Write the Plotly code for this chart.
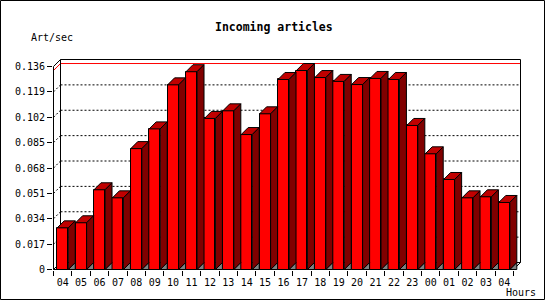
import plotly.graph_objects as go

# ---- data ----
hours = ["04", "05", "06", "07", "08", "09", "10", "11", "12", "13", "14", "15", "16",
         "17", "18", "19", "20", "21", "22", "23", "00", "01", "02", "03", "04"]
values = [0.0279, 0.0313, 0.0534, 0.0480, 0.0810, 0.0942, 0.1237, 0.1325, 0.1012,
          0.1063, 0.0904, 0.1043, 0.1273, 0.1333, 0.1286, 0.1260, 0.1239, 0.1280,
          0.1273, 0.0965, 0.0775, 0.0603, 0.0480, 0.0487, 0.0449]
tick_vals = [0, 0.017, 0.034, 0.051, 0.068, 0.085, 0.102, 0.119, 0.136]
tick_text = ["0", "0.017", "0.034", "0.051", "0.068", "0.085", "0.102", "0.119", "0.136"]
title_text = "Incoming articles"
y_label = "Art/sec"
x_label = "Hours"

# ---- geometry (pixels) ----
FIG_W, FIG_H = 550, 300
L, R, T, B = 53, 521, 59, 270
W, H = R - L, B - T
CAT_PX = 18.4            # pixels per category
DEPTH = 7                # 3D depth in pixels
YMAX = tick_vals[-1]
PPU = 203 / YMAX         # pixels per y unit
n = len(values)

xr0 = -0.5 - 0.5 / CAT_PX
xr1 = xr0 + W / CAT_PX
yr0 = -0.5 / PPU
yr1 = yr0 + H / PPU
dx = DEPTH / CAT_PX
dy = DEPTH / PPU
half = 0.3               # half width of bar front face (category units)

def pxp(xd):
    return (xd - xr0) / (xr1 - xr0)

def pyp(yd):
    return (yd - yr0) / (yr1 - yr0)

def ppx(p):   # pixel x -> paper
    return (p - L) / W

def ppy(p):   # pixel y -> paper
    return (B - p) / H

xs = list(range(n))

fig = go.Figure()

# front faces
fig.add_trace(go.Bar(
    x=xs, y=values, width=2 * half,
    marker=dict(color="#ff0000", line=dict(color="black", width=1)),
    hoverinfo="skip", showlegend=False,
))

# top faces, side faces, floor shadows
tx, ty, sx, sy, gx, gy = [], [], [], [], [], []
for i, v in zip(xs, values):
    xl, xr = i - half, i + half
    tx += [xl, xr, xr + dx, xl + dx, xl, None]
    ty += [v, v, v + dy, v + dy, v, None]
    sx += [xr, xr + dx, xr + dx, xr, xr, None]
    sy += [v, v + dy, dy, 0, v, None]
    gx += [xr, xr + dx, xr + dx, xr, None]
    gy += [0, dy, 0, 0, None]

fig.add_trace(go.Scatter(x=gx, y=gy, mode="lines", fill="toself", fillcolor="#808080",
                         line=dict(color="black", width=1), hoverinfo="skip", showlegend=False))
fig.add_trace(go.Scatter(x=tx, y=ty, mode="lines", fill="toself", fillcolor="#c00000",
                         line=dict(color="black", width=1), hoverinfo="skip", showlegend=False))
fig.add_trace(go.Scatter(x=sx, y=sy, mode="lines", fill="toself", fillcolor="#800000",
                         line=dict(color="black", width=1), hoverinfo="skip", showlegend=False))

shapes = []

def seg(x0, y0, x1, y1, color="black", dash=None):
    d = dict(type="line", xref="paper", yref="paper",
             x0=pxp(x0), y0=pyp(y0), x1=pxp(x1), y1=pyp(y1),
             line=dict(color=color, width=1), layer="below")
    if dash:
        d["line"]["dash"] = dash
    shapes.append(d)

left, right = -0.5, n - 0.5
# dotted gridlines on back wall + left wall diagonals
for v in tick_vals[1:-1]:
    seg(left + dx, v + dy, right + dx, v + dy, dash="2px,2px")
    seg(left, v, left + dx, v + dy, dash="2px,2px")
# max line in red
vmax = max(values)
seg(left + dx, vmax + dy, right + dx, vmax + dy, color="red")
seg(left, vmax, left + dx, vmax + dy, color="red")
# frame
seg(left + dx, YMAX + dy, right + dx, YMAX + dy)
seg(left + dx, dy, left + dx, YMAX + dy)
seg(right + dx, dy, right + dx, YMAX + dy)
seg(left, 0, left, YMAX)
seg(left, YMAX, left + dx, YMAX + dy)
seg(left, 0, right, 0)
seg(right, 0, right + dx, dy)
seg(left, 0, left + dx, dy)
seg(left + dx, dy, right + dx, dy)

# outer border
shapes.append(dict(type="rect", xref="paper", yref="paper",
                   x0=ppx(0.5), x1=ppx(544.5), y0=ppy(299.5), y1=ppy(0.5),
                   line=dict(color="black", width=1), fillcolor="rgba(0,0,0,0)", layer="below"))

FONT = "DejaVu Sans Mono"
annotations = [
    dict(text="<b>" + title_text + "</b>", xref="paper", yref="paper",
         x=ppx(274), y=ppy(27), xanchor="center", yanchor="middle", showarrow=False,
         font=dict(family=FONT, size=11.5, color="black")),
    dict(text=y_label, xref="paper", yref="paper",
         x=ppx(29), y=ppy(37), xanchor="left", yanchor="middle", showarrow=False,
         font=dict(family=FONT, size=10, color="black")),
    dict(text=x_label, xref="paper", yref="paper",
         x=ppx(504), y=ppy(292), xanchor="left", yanchor="middle", showarrow=False,
         font=dict(family=FONT, size=10, color="black")),
]

fig.update_layout(
    width=FIG_W, height=FIG_H,
    margin=dict(l=L, r=FIG_W - R, t=T, b=FIG_H - B, pad=0),
    paper_bgcolor="white", plot_bgcolor="rgba(0,0,0,0)",
    shapes=shapes, annotations=annotations,
    bargap=0, showlegend=False,
    font=dict(family=FONT, size=10, color="black"),
    xaxis=dict(range=[xr0, xr1], tickmode="array", tickvals=xs, ticktext=hours,
               ticks="outside", ticklen=3, tickcolor="rgba(0,0,0,0)",
               showgrid=False, zeroline=False, showline=False, fixedrange=True,
               tickfont=dict(family=FONT, size=10, color="black"),
               minor=dict(tickmode="array", tickvals=[k - 0.5 for k in range(n + 1)],
                          ticks="outside", ticklen=5, tickcolor="black", tickwidth=1,
                          showgrid=False)),
    yaxis=dict(range=[yr0, yr1], tickmode="array", tickvals=tick_vals, ticktext=tick_text,
               ticks="outside", ticklen=5, tickcolor="black", tickwidth=1,
               showgrid=False, zeroline=False, showline=False, fixedrange=True,
               tickfont=dict(family=FONT, size=10, color="black")),
)

fig.write_html("out.html", config={"displayModeBar": False})
